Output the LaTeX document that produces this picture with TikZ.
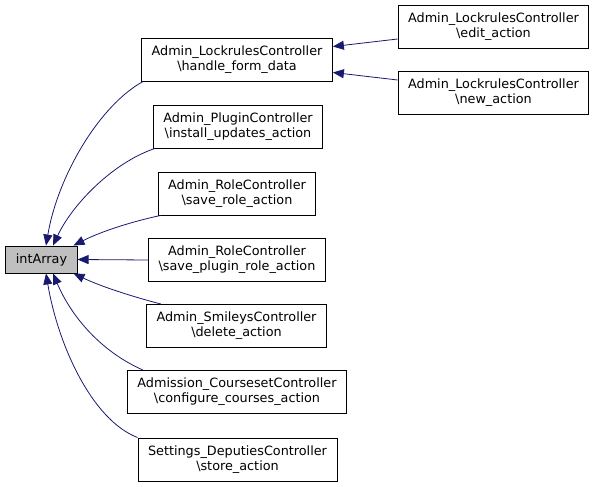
\documentclass[tikz,border=0pt]{standalone}
\usepackage{fontspec}
\setmainfont{DejaVu Sans}
\usetikzlibrary{arrows.meta}
\definecolor{edgeblue}{HTML}{191970}
\definecolor{boxgray}{HTML}{BFBFBF}

\begin{document}
\begin{tikzpicture}[x=1pt,y=-1pt]
\tikzset{fn/.style={draw,line width=0.9pt,align=center,inner xsep=10pt,minimum height=43pt,font=\fontsize{12.8}{15}\selectfont}}
\tikzset{cur/.style={fn,fill=boxgray,minimum height=27pt}}
\tikzset{call/.style={draw=edgeblue,line width=0.8pt,-{Triangle[length=11pt,width=9pt]}}}
\useasboundingbox (0,0) rectangle (595,487);

\path (41.5,259.5) node[cur] (ia) {intArray};
\path (237,59.5) node[fn] (hfd) {Admin\_LockrulesController\\\textbackslash handle\_form\_data};
\path (238,126.5) node[fn] (iua) {Admin\_PluginController\\\textbackslash install\_updates\_action};
\path (237,193.5) node[fn] (sra) {Admin\_RoleController\\\textbackslash save\_role\_action};
\path (237,260) node[fn] (spra) {Admin\_RoleController\\\textbackslash save\_plugin\_role\_action};
\path (236.5,326) node[fn] (da) {Admin\_SmileysController\\\textbackslash delete\_action};
\path (237,392) node[fn] (cca) {Admission\_CoursesetController\\\textbackslash configure\_courses\_action};
\path (237.5,459.5) node[fn] (sa) {Settings\_DeputiesController\\\textbackslash store\_action};
\path (493.5,26.5) node[fn] (ea) {Admin\_LockrulesController\\\textbackslash edit\_action};
\path (493.5,92.5) node[fn] (na) {Admin\_LockrulesController\\\textbackslash new\_action};

\draw[call] ([yshift=-12.5pt]ea.west) -- ([yshift=-9pt]hfd.north east);
\draw[call] ([yshift=12.5pt]na.west) -- ([yshift=9pt]hfd.south east);
\draw[call] ([xshift=2pt]hfd.south west) .. controls (100,105) and (58,175) .. ([xshift=4.5pt]ia.north);
\draw[call] ([xshift=2pt]iua.south west) .. controls (112,163) and (72,205) .. ([xshift=11.5pt]ia.north);
\draw[call] ([xshift=3pt]sra.south west) .. controls (130,222) and (100,232) .. ([xshift=-4pt]ia.north east);
\draw[call] (spra.west) -- (ia.east);
\draw[call] ([xshift=15pt]da.north west) .. controls (130,296) and (100,286) .. ([xshift=-4pt]ia.south east);
\draw[call] ([xshift=16pt]cca.north west) .. controls (102,352) and (72,318) .. ([xshift=11.5pt]ia.south);
\draw[call] (sa.north west) .. controls (92,420) and (58,345) .. ([xshift=4.5pt]ia.south);
\end{tikzpicture}
\end{document}
